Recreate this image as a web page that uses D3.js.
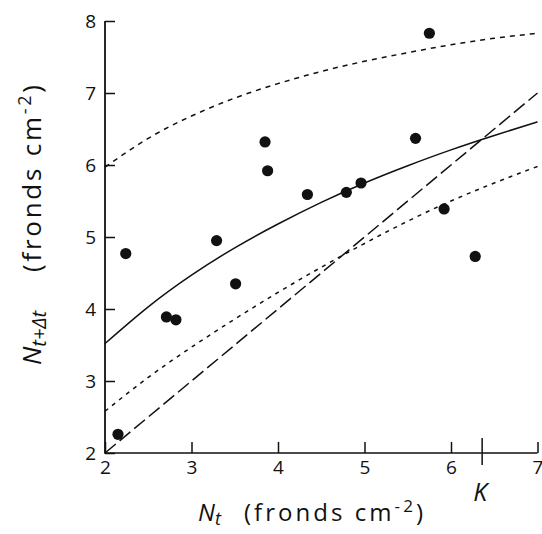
<!DOCTYPE html>
<html><head><meta charset="utf-8">
<script src="https://cdn.jsdelivr.net/npm/d3@7"></script>
<style>
html,body{margin:0;padding:0;background:#fff;}
svg{display:block;font-family:"Open Sans",sans-serif;}
</style></head>
<body><svg id="c" width="542" height="534"></svg>
<script>
// Observed data points
const ntObs     = [2.15, 2.24, 2.71, 2.82, 3.29, 3.51, 3.85, 3.88, 4.34, 4.79, 4.96, 5.59, 5.75, 5.92, 6.28];
const ntNextObs = [2.26, 4.77, 3.89, 3.85, 4.95, 4.35, 6.32, 5.92, 5.59, 5.62, 5.75, 6.37, 7.83, 5.39, 4.73];

// Curves
const curveX      = [2, 2.5, 3, 3.5, 4, 4.5, 5, 5.5, 6, 6.5, 7];
const fitY        = [3.52, 4.03, 4.47, 4.85, 5.18, 5.48, 5.75, 5.99, 6.21, 6.41, 6.60];
const upperY      = [5.97, 6.37, 6.68, 6.93, 7.13, 7.30, 7.44, 7.56, 7.67, 7.76, 7.83];
const lowerY      = [2.58, 3.05, 3.47, 3.86, 4.23, 4.58, 4.91, 5.22, 5.50, 5.75, 5.98];
const oneToOneX   = [2, 7];
const oneToOneY   = [2, 7];

const xTicks = [2, 3, 4, 5, 6, 7];
const yTicks = [2, 3, 4, 5, 6, 7, 8];
const kValue = 6.36;
const kLabel = "K";

const svg = d3.select("#c");
svg.append("rect").attr("width",542).attr("height",534).attr("fill","#fff");

const x = d3.scaleLinear().domain([2,7]).range([105,537.5]);
const y = d3.scaleLinear().domain([2,8]).range([453,21]);

const ink = "#111";

// Axes
const xAxis = svg.append("g").attr("transform","translate(0,453)")
  .call(d3.axisBottom(x).tickValues(xTicks).tickSize(-11).tickPadding(0).tickFormat(d3.format("d")));
const yAxis = svg.append("g").attr("transform","translate(105,0)")
  .call(d3.axisLeft(y).tickValues(yTicks).tickSize(-10).tickPadding(0).tickFormat(d3.format("d")));
[xAxis,yAxis].forEach(a=>{
  a.select(".domain").remove();
  a.selectAll(".tick line").attr("stroke",ink).attr("stroke-width",1.5);
  a.selectAll(".tick text").attr("fill",ink).style("font-size","19px").style("font-family","'Open Sans',sans-serif");
});
svg.append("line").attr("x1",x(2)).attr("x2",x(7)).attr("y1",y(2)).attr("y2",y(2)).attr("stroke",ink).attr("stroke-width",1.6);
svg.append("line").attr("x1",x(2)).attr("x2",x(2)).attr("y1",y(2)+0.8).attr("y2",y(8)).attr("stroke",ink).attr("stroke-width",1.8);
xAxis.selectAll(".tick text").attr("y",21).attr("dy","0");
yAxis.selectAll(".tick text").attr("x",-9).attr("dy","0.36em");

// K marker
svg.append("line").attr("x1",x(kValue)).attr("x2",x(kValue)).attr("y1",y(2)-15).attr("y2",y(2)+12)
  .attr("stroke",ink).attr("stroke-width",1.5);
svg.append("text").attr("x",x(kValue)-2).attr("y",501).attr("text-anchor","middle")
  .style("font-size","25px").style("font-style","italic").attr("fill",ink).text(kLabel);

// Lines
const line = d3.line().x(d=>x(d[0])).y(d=>y(d[1])).curve(d3.curveNatural);
const mk = (xs, ys) => xs.map((v,i)=>[v, ys[i]]);
const g = svg.append("g").attr("fill","none").attr("stroke",ink);
g.append("path").attr("d",line(mk(curveX,fitY))).attr("stroke-width",1.5);
g.append("path").attr("d",line(mk(curveX,upperY))).attr("stroke-width",1.5).attr("stroke-dasharray","5,5");
g.append("path").attr("d",line(mk(curveX,lowerY))).attr("stroke-width",1.5).attr("stroke-dasharray","4,5");
g.append("path").attr("d",line(mk(oneToOneX,oneToOneY))).attr("stroke-width",1.5).attr("stroke-dasharray","14,5");

// Points
svg.append("g").selectAll("circle").data(ntObs.map((v,i)=>[v,ntNextObs[i]])).join("circle")
  .attr("cx",d=>x(d[0])).attr("cy",d=>y(d[1])).attr("r",5.6).attr("fill",ink);

// Axis titles
const xg = svg.append("g").attr("transform","translate(198,521)").attr("fill",ink);
const xn = xg.append("text").style("font-size","24px");
xn.append("tspan").style("font-style","italic").text("N");
xn.append("tspan").style("font-style","italic").style("font-size","18px").attr("dy",4).text("t");
const xu = xg.append("text").attr("x",46).attr("textLength",179).attr("lengthAdjust","spacing").style("font-size","24px");
xu.append("tspan").text("(fronds cm");
xu.append("tspan").style("font-size","17px").attr("dy",-9).text("-2");
xu.append("tspan").attr("dy",9).text(")");

const yg = svg.append("g").attr("transform","translate(41,365) rotate(-90)").attr("fill",ink);
const yn = yg.append("text").style("font-size","26px");
yn.append("tspan").style("font-style","italic").text("N");
yn.append("tspan").style("font-style","italic").style("font-size","20px").attr("dy",5).text("t+\u0394t");
const yu = yg.append("text").attr("x",93).attr("textLength",187).attr("lengthAdjust","spacing").style("font-size","26px");
yu.append("tspan").text("(fronds cm");
yu.append("tspan").style("font-size","18px").attr("dy",-10).text("-2");
yu.append("tspan").attr("dy",10).text(")");
</script></body></html>
